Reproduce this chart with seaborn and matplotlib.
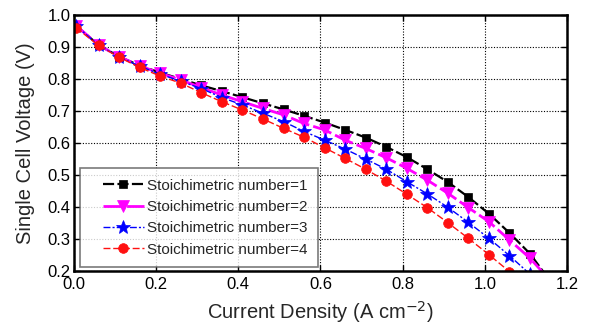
import matplotlib
matplotlib.use("Agg")
import matplotlib.pyplot as plt
from matplotlib.legend_handler import HandlerLine2D
import seaborn as sns
import pandas as pd

# ---- data ----
x_vals = [0.005, 0.06, 0.11, 0.16, 0.21, 0.26, 0.31, 0.36, 0.41, 0.46, 0.51, 0.56,
          0.61, 0.66, 0.71, 0.76, 0.81, 0.86, 0.91, 0.96, 1.01, 1.06, 1.11, 1.16]

v_sn1 = [0.967, 0.906, 0.870, 0.842, 0.820, 0.800, 0.780, 0.762, 0.743, 0.724, 0.705, 0.685,
         0.664, 0.641, 0.617, 0.588, 0.556, 0.518, 0.478, 0.431, 0.379, 0.319, 0.254, 0.167]
v_sn2 = [0.967, 0.906, 0.870, 0.841, 0.818, 0.797, 0.773, 0.750, 0.729, 0.708, 0.688, 0.661,
         0.641, 0.609, 0.583, 0.554, 0.521, 0.484, 0.443, 0.398, 0.354, 0.297, 0.240, 0.169]
v_sn3 = [0.966, 0.906, 0.869, 0.840, 0.815, 0.793, 0.770, 0.742, 0.719, 0.693, 0.667, 0.636,
         0.609, 0.581, 0.550, 0.518, 0.479, 0.441, 0.399, 0.352, 0.302, 0.248, 0.190]
v_sn4 = [0.960, 0.905, 0.868, 0.836, 0.809, 0.787, 0.757, 0.729, 0.703, 0.675, 0.646, 0.618,
         0.585, 0.552, 0.518, 0.481, 0.440, 0.398, 0.351, 0.302, 0.251, 0.198]

labels = ["Stoichimetric number=1", "Stoichimetric number=2",
          "Stoichimetric number=3", "Stoichimetric number=4"]
x_ticks = [0.0, 0.2, 0.4, 0.6, 0.8, 1.0, 1.2]
y_ticks = [0.2, 0.3, 0.4, 0.5, 0.6, 0.7, 0.8, 0.9, 1.0]

series = [v_sn1, v_sn2, v_sn3, v_sn4]
styles = [
    dict(color="black", marker="s", markersize=6, linewidth=1.6, dashes=(5, 1.5)),
    dict(color="#ff00ff", marker="v", markersize=8.5, linewidth=2.0, dashes=(7, 1.5)),
    dict(color="#0000ff", marker="*", markersize=10, linewidth=1.0, dashes=(5, 1.5, 1.5, 1.5)),
    dict(color="#ff1010", marker="o", markersize=7, linewidth=1.0, dashes=(5, 2)),
]


class ShiftedLineHandler(HandlerLine2D):
    """Legend handle whose line starts a bit to the right (extra left padding)."""
    def create_artists(self, legend, orig_handle, xdescent, ydescent,
                       width, height, fontsize, trans):
        shift = 0.8 * fontsize
        return super().create_artists(legend, orig_handle, xdescent - shift, ydescent,
                                      width - shift, height, fontsize, trans)


sns.set_theme(style="white")
plt.rcParams["font.family"] = ["Liberation Sans", "DejaVu Sans"]

fig = plt.figure(figsize=(5.89, 3.29), dpi=100)
ax = fig.add_axes([0.1256, 0.1763, 0.9626 - 0.1256, 0.9544 - 0.1763])

for vals, lab, st in zip(series, labels, styles):
    df = pd.DataFrame({"x": x_vals[:len(vals)], "y": vals})
    sns.lineplot(data=df, x="x", y="y", ax=ax, sort=False, estimator=None,
                 label=lab, color=st["color"], marker=st["marker"],
                 markersize=st["markersize"], linewidth=st["linewidth"],
                 markeredgecolor=st["color"], markeredgewidth=0.5,
                 dashes=st["dashes"])

ax.set_xlim(0.0, 1.2)
ax.set_ylim(0.2, 1.0)
ax.set_xticks(x_ticks)
ax.set_yticks(y_ticks)
ax.set_xticklabels([f"{t:.1f}" for t in x_ticks])
ax.set_yticklabels([f"{t:.1f}" for t in y_ticks])
ax.grid(True, color="black", linestyle=(0, (1, 1.5)), linewidth=0.8)
ax.tick_params(axis="both", direction="in", length=4, width=1, labelsize=12,
               colors="black", pad=3, bottom=True, left=True, top=True, right=True)
ax.tick_params(axis="x", pad=4.5)
ax.tick_params(axis="y", pad=2.5)
for s in ax.spines.values():
    s.set_color("black")
    s.set_linewidth(1.8)

ax.set_xlabel("Current Density (A cm$^{-2}$)", fontsize=14.5, labelpad=5)
ax.set_ylabel("Single Cell Voltage (V)", fontsize=14.5, labelpad=9)

handles, labs = ax.get_legend_handles_labels()
leg = ax.legend(handles, labs, loc="lower left", bbox_to_anchor=(0.012, 0.014),
                fontsize=11, frameon=True, fancybox=False,
                edgecolor="0.35", borderaxespad=0.0, handlelength=3.5,
                handletextpad=0.2, labelspacing=0.48, borderpad=0.7,
                handler_map={h: ShiftedLineHandler() for h in handles})
leg.get_frame().set_linewidth(1.2)

fig.savefig("out.png", dpi=100)
